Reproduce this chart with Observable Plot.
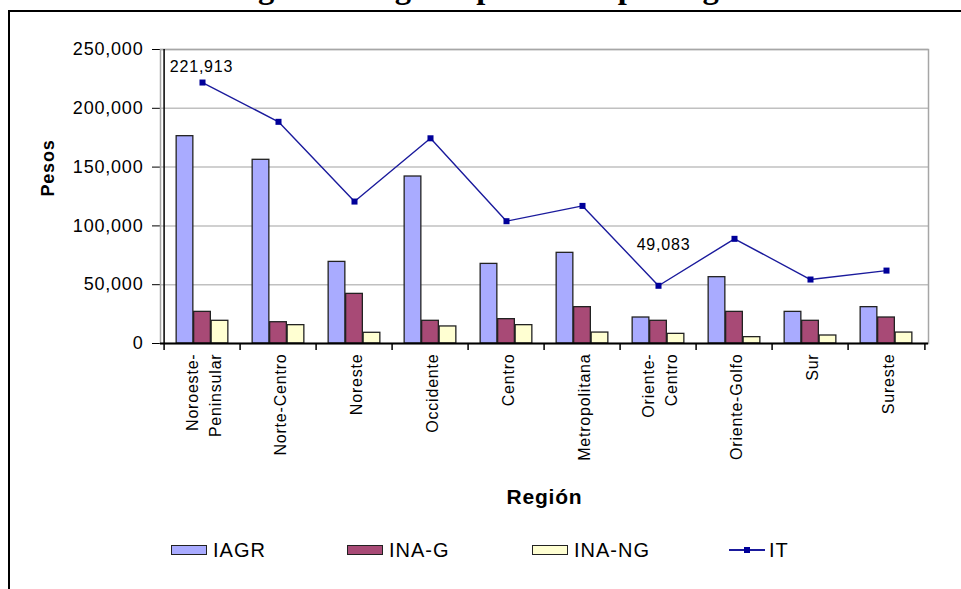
<!DOCTYPE html>
<html>
<head>
<meta charset="utf-8">
<script src="https://cdn.jsdelivr.net/npm/d3@7"></script>
<script src="https://cdn.jsdelivr.net/npm/@observablehq/plot@0.6"></script>
<style>
  html, body { margin: 0; padding: 0; background: #fff; overflow: hidden; }
  #page { position: relative; width: 961px; height: 589px; overflow: hidden; }
  #frame { position: absolute; left: 8px; top: 10px; width: 1100px; height: 800px; border: 2px solid #000; box-sizing: border-box; }
  #title { position: absolute; left: 229px; top: -29px; font-family: "Liberation Serif", serif; font-weight: bold; font-size: 32.6px; line-height: 32px; white-space: nowrap; color: #000; }
  #chart { position: absolute; left: 0; top: 0; }
  #chart svg text { letter-spacing: 0.8px; }
  #legend { position: absolute; left: 0; top: 0; width: 961px; height: 589px; pointer-events: none; font-family: "Liberation Sans Narrow", "Liberation Sans", sans-serif; font-size: 20px; color: #000; }
  .item { position: absolute; top: 539px; display: flex; align-items: center; height: 22px; letter-spacing: 1px; }
  .sw { width: 36px; height: 10px; border: 1.5px solid #222; box-sizing: border-box; margin-right: 6px; }
  .ln { width: 36px; height: 10px; margin-right: 4px; position: relative; }
  .ln::before { content: ""; position: absolute; left: 0; right: 0; top: 4px; height: 2px; background: #1a1a9c; }
  .ln::after { content: ""; position: absolute; left: 15px; top: 2px; width: 6px; height: 6px; background: #000099; }
</style>
</head>
<body>
<div id="page">
  <div id="title">Figura 2. Ingreso promedio por región</div>
  <div id="frame"></div>
  <div id="chart"></div>
  <div id="legend"></div>
</div>
<script>
// ---- data ----
const regions = ["Noroeste-Peninsular", "Norte-Centro", "Noreste", "Occidente", "Centro",
                 "Metropolitana", "Oriente-Centro", "Oriente-Golfo", "Sur", "Sureste"];
const regionLabels = ["Noroeste-\nPeninsular", "Norte-Centro", "Noreste", "Occidente", "Centro",
                      "Metropolitana", "Oriente-\nCentro", "Oriente-Golfo", "Sur", "Sureste"];
const iagr  = [176300, 156200, 69400, 142000, 67700, 77100, 22100, 56400, 26900, 30900];
const inaG  = [ 26900,  18100, 42200,  19300, 20700, 30900, 19300, 26900, 19300, 22100];
const inaNG = [ 19300,  15600,  9100,  14500, 15600,  9300,  8200,  5400,  6800,  9300];
const it    = [221913, 188500, 120700, 174500, 104000, 117000, 49083, 89000, 54400, 62000];
const itLabels = ["221,913", "", "", "", "", "", "49,083", "", "", ""];
const yTicks = [0, 50000, 100000, 150000, 200000, 250000];
const seriesNames = ["IAGR", "INA-G", "INA-NG", "IT"];
const colors = {"IAGR": "#a9abff", "INA-G": "#a84a76", "INA-NG": "#ffffd2", "IT": "#1a1a9c"};

// ---- layout ----
const W = 961, H = 589;
const mL = 160, mR = 33, mT = 49, mB = 246;
const bw = (W - mL - mR) / regions.length;
const barW = 17.5;
const inset = (bw - barW) / 2;

const rows = regions.map((r, i) => ({
  region: r, label: regionLabels[i], iagr: iagr[i], inaG: inaG[i], inaNG: inaNG[i],
  it: it[i], itLabel: itLabels[i]
}));

const chart = Plot.plot({
  width: W, height: H,
  marginLeft: mL, marginRight: mR, marginTop: mT, marginBottom: mB,
  style: {fontFamily: "Liberation Sans, Arial, sans-serif", fontSize: "18px", background: "transparent", color: "#000", overflow: "visible"},
  x: {domain: regions, padding: 0, axis: null},
  y: {domain: [0, 250000], ticks: yTicks, tickFormat: d3.format(","), tickSize: 8, tickPadding: 9, label: null},
  marks: [
    Plot.ruleY(yTicks.slice(1), {stroke: "#c0c0c0", strokeWidth: 1.5}),
    Plot.frame({stroke: "#a6a6a6", strokeWidth: 1.5}),
    Plot.barY(rows, {x: "region", y: "iagr", fill: colors["IAGR"], stroke: "#222", strokeWidth: 1.3, insetLeft: inset, insetRight: inset, dx: -barW}),
    Plot.barY(rows, {x: "region", y: "inaG", fill: colors["INA-G"], stroke: "#222", strokeWidth: 1.3, insetLeft: inset, insetRight: inset}),
    Plot.barY(rows, {x: "region", y: "inaNG", fill: colors["INA-NG"], stroke: "#222", strokeWidth: 1.3, insetLeft: inset, insetRight: inset, dx: barW}),
    Plot.line(rows, {x: "region", y: "it", stroke: colors["IT"], strokeWidth: 1.4}),
    Plot.dot(rows, {x: "region", y: "it", symbol: "square", r: 3.4, fill: "#000099", stroke: null}),
    Plot.text(rows.filter(d => d.region === "Noroeste-Peninsular"), {x: "region", y: "it", text: "itLabel", dy: -16, dx: -1, fontSize: 16}),
    Plot.text(rows.filter(d => d.region === "Oriente-Centro"), {x: "region", y: "it", text: "itLabel", dy: -41, dx: 5, fontSize: 16}),
    // axis lines
    Plot.ruleY([0], {stroke: "#000", strokeWidth: 2}),
    Plot.ruleX([regions[0]], {y1: 0, y2: 250000, dx: -bw / 2, stroke: "#000", strokeWidth: 1.5}),
    // boundary ticks on x axis
    Plot.ruleX(regions, {y1: 0, y2: 0, insetBottom: -7, dx: -bw / 2, stroke: "#000", strokeWidth: 1.5}),
    Plot.ruleX([regions[regions.length - 1]], {y1: 0, y2: 0, insetBottom: -7, dx: bw / 2, stroke: "#000", strokeWidth: 1.5}),
    // category labels
    Plot.text(rows, {x: "region", y: 0, text: "label", rotate: -90, textAnchor: "end", dy: 10, fontSize: 16, lineHeight: 1.4}),
    // axis titles
    Plot.text(["Pesos"], {frameAnchor: "left", text: d => d, rotate: -90, dx: -112, dy: 0, fontWeight: "bold", fontSize: 18, fontFamily: "Liberation Sans Narrow, Liberation Sans, sans-serif"}),
    Plot.text(["Región"], {frameAnchor: "bottom", text: d => d, dy: 160, fontWeight: "bold", fontSize: 21, fontFamily: "Liberation Sans Narrow, Liberation Sans, sans-serif"})
  ]
});
document.getElementById("chart").appendChild(chart);

// ---- legend ----
const legendPos = {"IAGR": 171, "INA-G": 347, "INA-NG": 532, "IT": 729};
const legend = document.getElementById("legend");
for (const name of seriesNames) {
  const item = document.createElement("div");
  item.className = "item";
  item.style.left = legendPos[name] + "px";
  const sw = document.createElement("div");
  if (name === "IT") { sw.className = "ln"; }
  else { sw.className = "sw"; sw.style.background = colors[name]; }
  item.appendChild(sw);
  const t = document.createElement("span");
  t.textContent = name;
  item.appendChild(t);
  legend.appendChild(item);
}
</script>
</body>
</html>
